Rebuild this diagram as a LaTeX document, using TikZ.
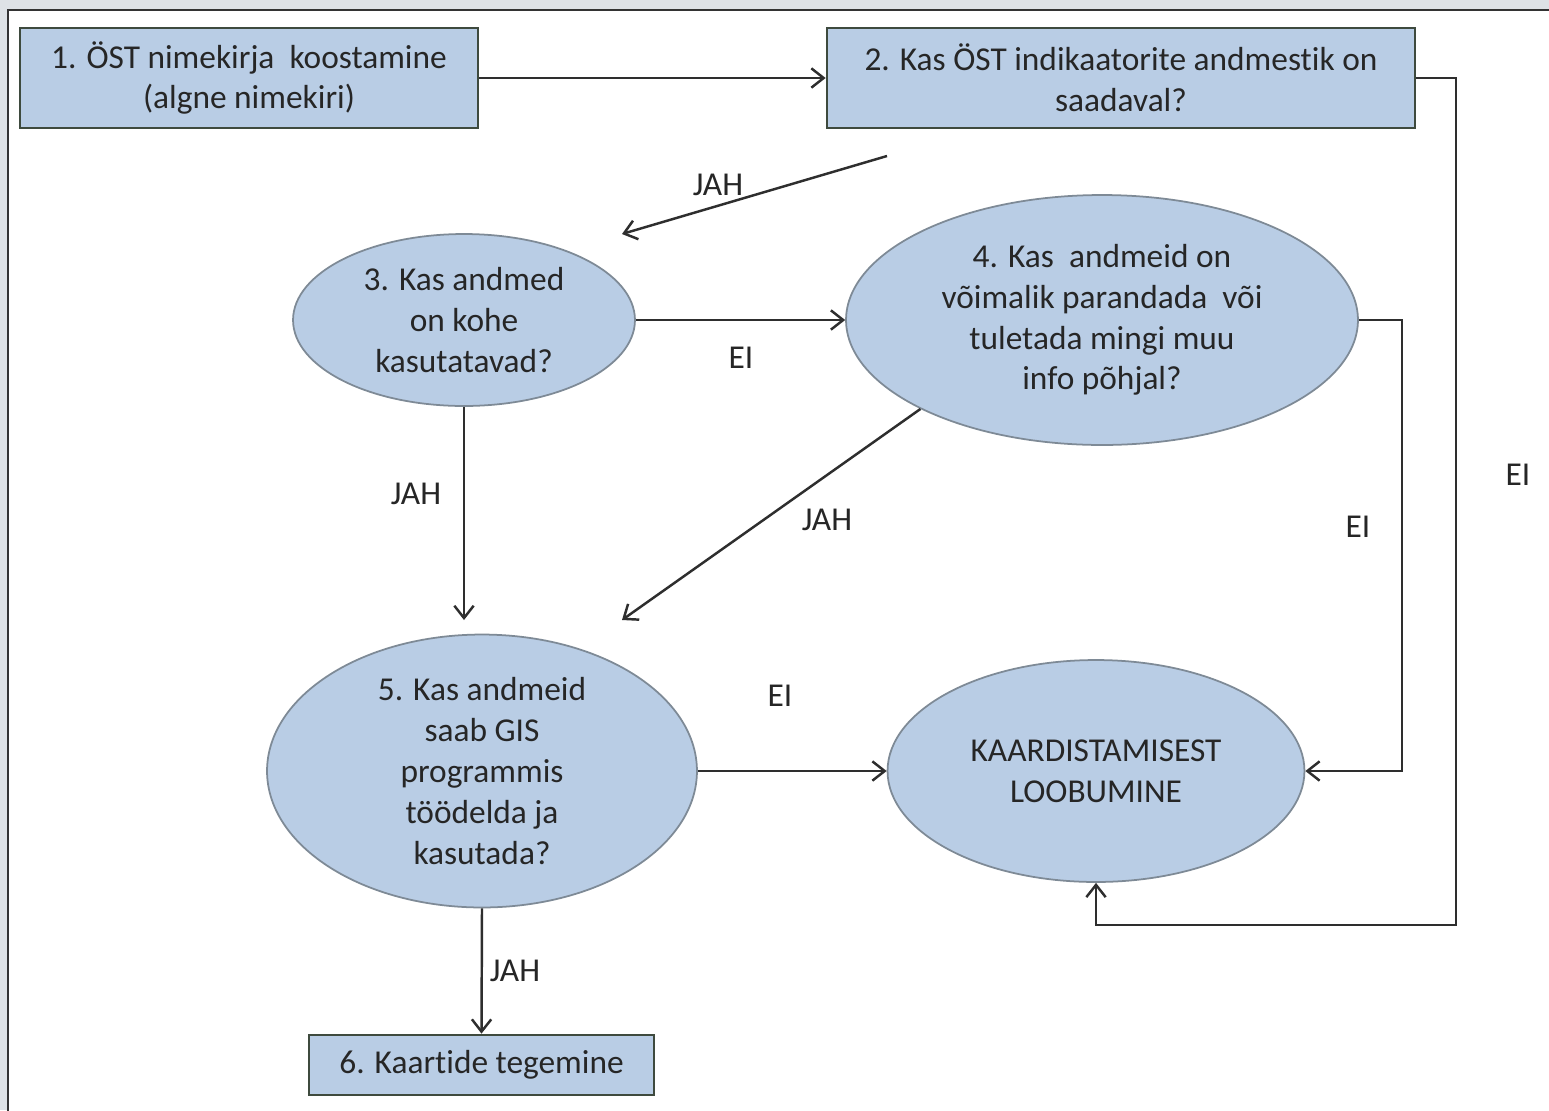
\documentclass[tikz,border=0pt]{standalone}
\usepackage{fontspec}
\setmainfont{Carlito}[RawFeature={-liga;-clig;-dlig}]
\usetikzlibrary{shapes.geometric,arrows.meta}
\definecolor{nodefill}{HTML}{B9CDE5}
\definecolor{boxline}{HTML}{3E4A3E}
\definecolor{ellline}{HTML}{7E8A96}
\definecolor{txt}{HTML}{262626}
\definecolor{frameback}{HTML}{DEE2E6}
\definecolor{conn}{HTML}{2E2E2E}
\begin{document}
\begin{tikzpicture}[x=0.02cm,y=-0.02cm,
  every node/.style={font=\fontsize{19}{23.2}\selectfont, text=txt},
  procbox/.style={draw=boxline, line width=1.6pt, fill=nodefill, inner sep=0pt, align=center},
  decell/.style={ellipse, draw=ellline, line width=1pt, fill=nodefill, inner sep=0pt},
  elltext/.style={align=center, inner sep=0pt},
  arr/.style={draw=conn, line width=1.4pt, -{Straight Barb[length=7pt,width=11pt,line width=1.4pt]}},
  lab/.style={inner sep=0pt}]
\useasboundingbox (0,0) rectangle (1549,1110);
\clip (0,0) rectangle (1549,1110);
\fill[frameback] (0,0) rectangle (1549,1110);
\draw[fill=white, draw=black!80, line width=1pt] (8,10) rectangle (1570,1130);

% nodes
\node[procbox, minimum width=9.16cm, minimum height=2cm] (b1) at (249,78) {1. ÖST nimekirja\ \ koostamine\\(algne nimekiri)};
\node[procbox, minimum width=11.76cm, minimum height=2cm] (b2) at (1121,78) {2. Kas ÖST indikaatorite andmestik on\\saadaval?};
\node[decell, minimum width=6.84cm, minimum height=3.44cm] (e3) at (464,320) {};
\node[elltext] at (e3.center) {3. Kas andmed\\on kohe\\kasutatavad?};
\node[decell, minimum width=10.24cm, minimum height=5cm] (e4) at (1102,320) {};
\node[elltext] at (e4.center) {4. Kas\ \ andmeid on\\võimalik parandada\ \ või\\tuletada mingi muu\\info põhjal?};
\node[decell, minimum width=8.6cm, minimum height=5.46cm] (e5) at (482,771) {};
\node[elltext] at (e5.center) {5. Kas andmeid\\saab GIS\\programmis\\töödelda ja\\kasutada?};
\node[decell, minimum width=8.34cm, minimum height=4.44cm] (k) at (1096,771) {};
\node[elltext] at (k.center) {KAARDISTAMISEST\\LOOBUMINE};
\node[procbox, minimum width=6.9cm, minimum height=1.2cm] (b6) at (481.5,1065) {6. Kaartide tegemine};

% free coordinates
\coordinate (j1) at (887,156);
\coordinate (j2) at (622,234);
\coordinate (c1) at (1456,925);
\coordinate (c2) at (1402,771);
\coordinate (d3) at (464,620);
\coordinate (d4) at (622,620);

% connectors
\draw[arr] (b1.east) -- (b2.west);
\draw[arr] (j1) -- (j2);
\draw[arr] (b2.east) -| (c1) -| (k.south);
\draw[arr] (e3.east) -- (e4.west);
\draw[arr] (e4.east) -| (c2) -- (k.east);
\draw[arr] (e3.south) -- (d3);
\draw[arr] (e4.south west) -- (d4);
\draw[arr] (e5.east) -- (k.west);
\draw[arr] (e5.south) -- (b6.north);

% labels
\node[lab] (l1) at (718,185) {JAH};
\node[lab] (l2) at (741,358) {EI};
\node[lab] (l3) at (416,494) {JAH};
\node[lab] (l4) at (827,520) {JAH};
\node[lab] (l5) at (1358,527) {EI};
\node[lab] (l6) at (1518,475) {EI};
\node[lab] (l7) at (780,696) {EI};
\node[lab] (l8) at (515,971) {JAH};
\end{tikzpicture}
\end{document}
